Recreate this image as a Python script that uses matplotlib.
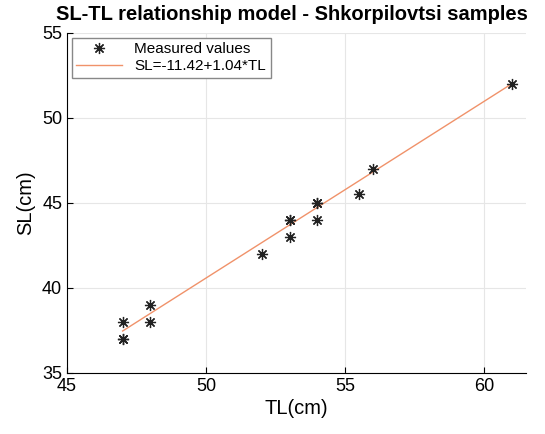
import numpy as np
import matplotlib
matplotlib.use('Agg')
import matplotlib.pyplot as plt

# measured samples (duplicates plotted on top of each other)
tl = [47, 47, 47, 48, 48, 52, 53, 53, 53, 54, 54, 54, 55.5, 56, 61]
sl = [37, 37, 38, 38, 39, 42, 43, 44, 44, 44, 45, 45, 45.5, 47, 52]
intercept = -11.42
slope = 1.04
fit_range = [47, 61]

xticks = [45, 50, 55, 60]
yticks = [35, 40, 45, 50, 55]

plt.rcParams['font.family'] = ['Liberation Sans', 'DejaVu Sans']

fig = plt.figure(figsize=(5.45, 4.34), dpi=100)
ax = fig.add_axes([0.123, 0.141, 0.842, 0.783])

fx = np.array(fit_range)
ax.plot(tl, sl, linestyle='none', marker=(8, 2, 0), markersize=8, color='#222222',
        markeredgewidth=0.9, label='Measured values', zorder=3)
ax.plot(fx, intercept + slope * fx, color='#f0926a', lw=1.0,
        label=f'SL={intercept}+{slope}*TL', zorder=2)

ax.set_xlim(45, 61.5)
ax.set_ylim(35, 55)
ax.set_xticks(xticks)
ax.set_yticks(yticks)
ax.grid(True, color='#e6e6e6', lw=0.8)
ax.set_axisbelow(True)
ax.spines['top'].set_visible(False)
ax.spines['right'].set_visible(False)
ax.tick_params(direction='in', labelsize=13, length=4)

ax.set_xlabel('TL(cm)', fontsize=14.5, labelpad=3)
ax.set_ylabel('SL(cm)', fontsize=14.5, labelpad=5)
ax.set_title('SL-TL relationship model - Shkorpilovtsi samples', fontsize=14.5,
             fontweight='bold', pad=9, x=0.49)

ax.legend(loc='upper left', fontsize=11, frameon=True, fancybox=False,
          edgecolor='#888888', framealpha=1, borderaxespad=0.3,
          handlelength=3, borderpad=0.3, labelspacing=0.2)

fig.savefig('out.png', dpi=100)
